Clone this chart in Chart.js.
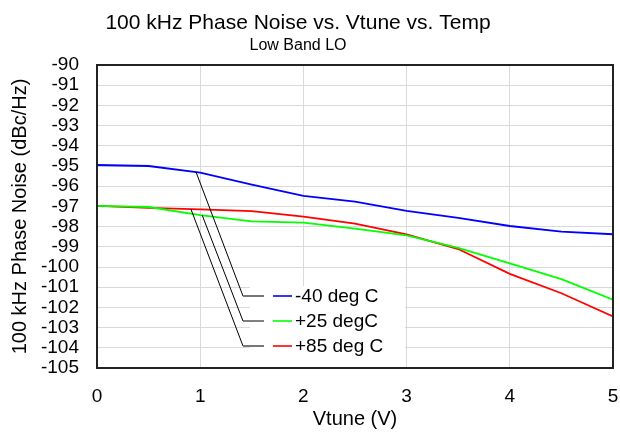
<!DOCTYPE html>
<html>
<head>
<meta charset="utf-8">
<script src="https://cdn.jsdelivr.net/npm/chart.js@4.4.1/dist/chart.umd.min.js"></script>
<style>
  html, body { margin: 0; padding: 0; background: #fff; }
  #wrap { width: 620px; height: 434px; position: relative; }
</style>
</head>
<body>
<div id="wrap"><canvas id="c" width="620" height="434"></canvas></div>
<script>
// ---- data ----
const chartTitle = '100 kHz Phase Noise vs. Vtune vs. Temp';
const chartSubtitle = 'Low Band LO';
const vtune = [0, 0.5, 1, 1.5, 2, 2.5, 3, 3.5, 4, 4.5, 5];
const seriesLabels = ['-40 deg C', '+25 degC', '+85 deg C'];
const seriesColors = ['#0000FF', '#00FF00', '#FF0000'];
const minus40 = [-94.95, -95.0, -95.33, -95.92, -96.48, -96.76, -97.22, -97.57, -97.97, -98.25, -98.38];
const plus25  = [-96.97, -97.03, -97.43, -97.74, -97.80, -98.10, -98.43, -99.05, -99.82, -100.60, -101.62];
const plus85  = [-96.97, -97.07, -97.15, -97.23, -97.51, -97.85, -98.39, -99.11, -100.34, -101.30, -102.45];
const leaderAnchorX = [0.96, 1.02, 0.91];
const xTicks = [0, 1, 2, 3, 4, 5];
const yTicks = [-90, -91, -92, -93, -94, -95, -96, -97, -98, -99, -100, -101, -102, -103, -104, -105];

const seriesValues = [minus40, plus25, plus85];
const FONT = "'Liberation Sans', Arial, sans-serif";

function interp(xs, ys, x) {
  for (let i = 0; i < xs.length - 1; i++) {
    if (x >= xs[i] && x <= xs[i + 1]) {
      const t = (x - xs[i]) / (xs[i + 1] - xs[i]);
      return ys[i] + t * (ys[i + 1] - ys[i]);
    }
  }
  return ys[ys.length - 1];
}

const datasets = seriesValues.map((vals, i) => ({
  label: seriesLabels[i],
  data: vtune.map((x, j) => ({ x: x, y: vals[j] })),
  borderColor: seriesColors[i],
  backgroundColor: seriesColors[i],
  borderWidth: 1.8,
  pointRadius: 0,
  tension: 0,
  fill: false
}));

const framePlugin = {
  id: 'frame',
  beforeDatasetsDraw(chart) {
    const ctx = chart.ctx, a = chart.chartArea;
    const boxL = 250, boxT = 286, boxR = 405, boxB = a.bottom - 1;
    ctx.save();
    ctx.fillStyle = '#fff';
    ctx.fillRect(boxL, boxT, boxR - boxL, boxB - boxT);
    ctx.restore();
  },
  afterDatasetsDraw(chart) {
    const ctx = chart.ctx, a = chart.chartArea;
    const xs = chart.scales.x, ys = chart.scales.y;
    ctx.save();
    const rowY0 = 296, rowGap = 25;
    const leadL = 243, leadR = 264, sampL = 273, sampR = 292, textX = 295;
    seriesLabels.forEach((lab, i) => {
      const yy = rowY0 + i * rowGap;
      const ax = leaderAnchorX[i];
      const px = xs.getPixelForValue(ax);
      const py = ys.getPixelForValue(interp(vtune, seriesValues[i], ax));
      ctx.strokeStyle = '#000';
      ctx.lineWidth = 1;
      ctx.beginPath();
      ctx.moveTo(px, py);
      ctx.lineTo(leadL, yy);
      ctx.stroke();
      ctx.strokeStyle = i === 1 ? '#000' : '#777';
      ctx.lineWidth = i === 1 ? 1 : 2;
      ctx.beginPath();
      ctx.moveTo(leadL, yy);
      ctx.lineTo(leadR, yy);
      ctx.stroke();
      ctx.strokeStyle = seriesColors[i];
      ctx.lineWidth = 1.6;
      ctx.beginPath();
      ctx.moveTo(sampL, yy);
      ctx.lineTo(sampR, yy);
      ctx.stroke();
      ctx.fillStyle = '#000';
      ctx.font = '19px ' + FONT;
      ctx.textAlign = 'left';
      ctx.textBaseline = 'middle';
      ctx.fillText(lab, textX, yy + 1);
    });
    ctx.strokeStyle = '#222';
    ctx.lineWidth = 2;
    ctx.strokeRect(a.left, a.top, a.right - a.left, a.bottom - a.top);
    ctx.restore();
  },
  afterDraw(chart) {
    const ctx = chart.ctx;
    ctx.save();
    ctx.fillStyle = '#000';
    ctx.textAlign = 'center';
    ctx.textBaseline = 'middle';
    ctx.font = '21px ' + FONT;
    ctx.fillText(chartTitle, 298, 23);
    ctx.font = '16px ' + FONT;
    ctx.fillText(chartSubtitle, 298, 46);
    ctx.restore();
  }
};

new Chart(document.getElementById('c'), {
  type: 'line',
  data: { datasets: datasets },
  plugins: [framePlugin],
  options: {
    responsive: false,
    animation: false,
    devicePixelRatio: 1,
    layout: { padding: { left: 0, right: 7, top: 65, bottom: 0 } },
    plugins: {
      legend: { display: false },
      tooltip: { enabled: false },
      title: { display: false },
      subtitle: { display: false }
    },
    scales: {
      x: {
        type: 'linear',
        min: 0, max: 5,
        afterBuildTicks(s) { s.ticks = xTicks.map(v => ({ value: v })); },
        afterFit(s) { s.height = 66; },
        grid: { color: '#d9d9d9', lineWidth: 1, drawTicks: false },
        border: { display: false },
        ticks: { color: '#000', padding: 0, autoSkip: false, maxRotation: 0,
                 font: { family: FONT, size: 19, lineHeight: 3.0 } },
        title: {
          display: true, text: 'Vtune (V)', color: '#000',
          font: { family: FONT, size: 20 }, padding: { top: 0, bottom: 3 }
        }
      },
      y: {
        type: 'linear',
        min: -105, max: -90,
        afterBuildTicks(s) { s.ticks = yTicks.map(v => ({ value: v })); },
        afterFit(s) { s.width = 97; },
        grid: { color: '#d9d9d9', lineWidth: 1, drawTicks: false },
        border: { display: false },
        ticks: { color: '#000', padding: 18, autoSkip: false, font: { family: FONT, size: 19 } },
        title: {
          display: true, text: '100 kHz Phase Noise (dBc/Hz)', color: '#000',
          font: { family: FONT, size: 20 }, padding: { top: 8, bottom: 0 }
        }
      }
    }
  }
});
</script>
</body>
</html>
